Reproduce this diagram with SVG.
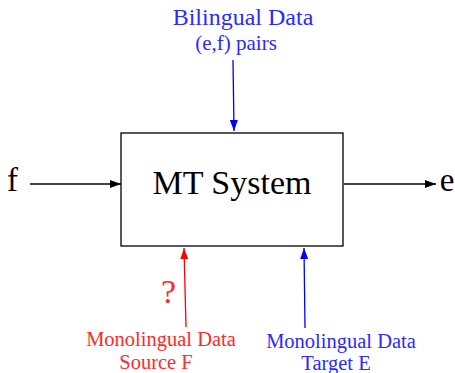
<svg xmlns="http://www.w3.org/2000/svg" width="455" height="373" viewBox="0 0 455 373">
<style>
text{text-anchor:middle}
.k{fill:#000}
.b{fill:#2a2aff}
.r{fill:#ff2a2a}
line{stroke-width:1.3}
</style>
<defs>
<marker id="ak" viewBox="0 0 11 8" refX="11" refY="4" markerWidth="11" markerHeight="8" markerUnits="userSpaceOnUse" orient="auto"><path d="M0,0L11,4L0,8z" fill="#000"/></marker>
<marker id="ab" viewBox="0 0 11 8" refX="11" refY="4" markerWidth="11" markerHeight="8" markerUnits="userSpaceOnUse" orient="auto"><path d="M0,0L11,4L0,8z" fill="#0000ff"/></marker>
<marker id="ar" viewBox="0 0 11 8" refX="11" refY="4" markerWidth="11" markerHeight="8" markerUnits="userSpaceOnUse" orient="auto"><path d="M0,0L11,4L0,8z" fill="#ff0000"/></marker>
</defs>
<g font-family="'Liberation Serif', 'DejaVu Serif', serif">
<g id="mt">
<rect x="121" y="133" width="222" height="113" fill="#fff" stroke="#000" stroke-width="1.3"/>
<text x="232" y="194" font-size="34" class="k">MT System</text>
</g>
<g id="f"><text x="12.5" y="191" font-size="33" class="k">f</text></g>
<g id="e"><text x="447" y="191" font-size="33" class="k">e</text></g>
<g id="bilingual">
<text x="243" y="25" font-size="24" class="b">Bilingual Data</text>
<text x="236" y="50" font-size="21" class="b">(e,f) pairs</text>
</g>
<g id="monoF">
<text x="161" y="346" font-size="20.5" class="r">Monolingual Data</text>
<text x="156" y="369" font-size="20.5" class="r">Source F</text>
<text x="168.5" y="303" font-size="34" class="r">?</text>
</g>
<g id="monoE">
<text x="341" y="348" font-size="20.5" class="b">Monolingual Data</text>
<text x="336" y="370" font-size="20.5" class="b">Target E</text>
</g>
</g>
<g id="connectors">
<line x1="30" y1="184" x2="121" y2="184" stroke="#000" marker-end="url(#ak)"/>
<line x1="344" y1="184" x2="436" y2="184" stroke="#000" marker-end="url(#ak)"/>
<line x1="233" y1="60" x2="234" y2="131" stroke="#0000ff" marker-end="url(#ab)"/>
<line x1="186" y1="327" x2="184" y2="248" stroke="#ff0000" marker-end="url(#ar)"/>
<line x1="305" y1="328" x2="304" y2="248" stroke="#0000ff" marker-end="url(#ab)"/>
</g>
</svg>
